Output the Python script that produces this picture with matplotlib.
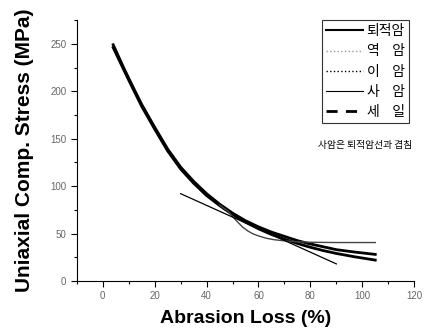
# Uniaxial compressive stress vs abrasion loss, by rock type
import matplotlib.pyplot as plt
from matplotlib.lines import Line2D
from matplotlib.ticker import MultipleLocator

plt.rcParams['font.family'] = ['Liberation Sans', 'Noto Sans CJK KR', 'DejaVu Sans']

# curve values
x_sed = [4, 8, 11, 15, 20, 25, 30, 35, 40, 45, 50, 55, 60, 65, 70, 75, 80, 85, 90, 97, 105]
y_sed = [249, 225, 208, 186, 162, 139, 120, 105, 92, 81, 71.5, 63.5, 57, 51.5, 47, 42.5, 39, 36, 33, 30.5, 28]  # 퇴적암 (사암 overlaps)
y_shale = [246, 223, 206, 184, 160, 137, 118, 103, 90, 79.5, 70, 62, 55, 49, 44, 39.5, 35.5, 32, 29, 25.5, 22]  # 세일

x_cong = [45, 48, 50, 52, 54, 56, 58, 60, 63, 66, 70, 75, 80, 90, 105]
y_cong = [80, 74, 68, 62, 56.5, 52.5, 49.5, 47.5, 45, 43.5, 42.3, 41.3, 40.8, 40.5, 40.5]  # 역암

x_mud = [30, 90]
y_mud = [92, 18]  # 이암

labels = ['퇴적암', '역    암', '이    암', '사    암', '세    일']
note = '사암은 퇴적암선과 겹침'

fig = plt.figure(figsize=(4.27, 3.29), dpi=100)
ax = fig.add_axes([0.18, 0.146, 0.79, 0.793])

ax.plot(x_sed, y_sed, color='black', lw=2.0)
ax.plot(x_sed, y_sed, color='black', lw=0.8)
ax.plot(x_sed, y_shale, color='black', lw=2.0)
ax.plot(x_cong, y_cong, color='#444444', lw=1.0)
ax.plot(x_mud, y_mud, color='black', lw=0.9)

ax.set_xlim(-10, 120)
ax.set_ylim(0, 275)
ax.xaxis.set_major_locator(MultipleLocator(20))
ax.xaxis.set_minor_locator(MultipleLocator(10))
ax.yaxis.set_major_locator(MultipleLocator(50))
ax.yaxis.set_minor_locator(MultipleLocator(25))
ax.tick_params(which='major', direction='out', length=4, width=0.8,
               labelsize=7, labelcolor='#666666')
ax.tick_params(which='minor', direction='out', length=2, width=0.8)
ax.spines['top'].set_visible(False)
ax.spines['right'].set_visible(False)

ax.set_xlabel('Abrasion Loss (%)', fontsize=14, fontweight='bold', labelpad=6)
ax.set_ylabel('Uniaxial Comp. Stress (MPa)', fontsize=15, fontweight='bold', labelpad=12)

handles = [
    Line2D([], [], color='black', lw=1.5, ls='-'),
    Line2D([], [], color='#999999', lw=1.0, ls=':'),
    Line2D([], [], color='black', lw=1.0, ls=':'),
    Line2D([], [], color='black', lw=0.8, ls='-'),
    Line2D([], [], color='black', lw=2.0, ls=(0, (4, 3))),
]
leg = ax.legend(handles, labels, loc='upper right', bbox_to_anchor=(0.985, 1.0),
                borderaxespad=0, handlelength=2.6, handletextpad=0.3,
                labelspacing=0.45, borderpad=0.3, fancybox=False, framealpha=1,
                prop={'family': ['Noto Sans CJK KR', 'DejaVu Sans'], 'size': 10})
leg.get_frame().set_edgecolor('#333333')
leg.get_frame().set_linewidth(0.8)

ax.text(0.995, 0.52, note, transform=ax.transAxes, ha='right', va='center',
        fontsize=7, family=['Noto Sans CJK KR', 'DejaVu Sans'])

fig.savefig('out.png', dpi=100)
